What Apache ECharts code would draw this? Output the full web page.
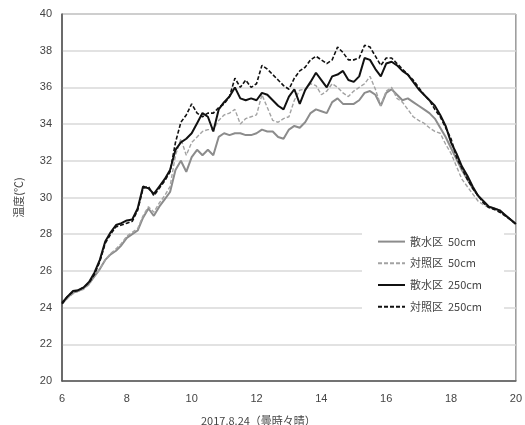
<!DOCTYPE html>
<html>
<head>
<meta charset="utf-8">
<script src="https://cdn.jsdelivr.net/npm/echarts@6/dist/echarts.min.js"></script>
<style>
  html, body { margin: 0; padding: 0; background: #fff; }
  #chart { width: 525px; height: 425px; }
</style>
</head>
<body>
<div id="chart"></div>
<script>
// 10 minute steps, 6:00 - 20:00
const hours = [];
for (let i = 0; i <= 84; i++) hours.push(6 + i / 6);

const yTicks = [20, 22, 24, 26, 28, 30, 32, 34, 36, 38, 40];
const xTicks = [6, 8, 10, 12, 14, 16, 18, 20];

// 散水区 50cm
const sprinkle50 = [
  24.2, 24.55, 24.8, 24.9, 25.05, 25.3, 25.7, 26.1, 26.6, 26.9,
  27.1, 27.4, 27.8, 28.0, 28.2, 28.9, 29.4, 29.0, 29.5, 29.9,
  30.3, 31.5, 32.0, 31.4, 32.2, 32.6, 32.3, 32.6, 32.3, 33.3,
  33.5, 33.4, 33.5, 33.5, 33.4, 33.4, 33.5, 33.7, 33.6, 33.6,
  33.3, 33.2, 33.7, 33.9, 33.8, 34.1, 34.6, 34.8, 34.7, 34.6,
  35.2, 35.4, 35.1, 35.1, 35.1, 35.3, 35.7, 35.8, 35.6, 35.0,
  35.7, 35.9, 35.6, 35.3, 35.4, 35.2, 35.0, 34.8, 34.6, 34.3,
  33.8, 33.3, 32.7, 32.1, 31.5, 31.0, 30.5, 30.1, 29.8, 29.5,
  29.4, 29.3, 29.05, 28.8, 28.55
];
// 対照区 50cm
const control50 = [
  24.2, 24.5, 24.75, 24.9, 25.0, 25.25, 25.7, 26.1, 26.6, 26.95,
  27.2, 27.5, 27.9, 28.1, 28.3, 29.0, 29.5, 29.2, 29.7, 30.1,
  30.6, 32.3, 33.2, 32.3, 33.0, 33.3, 33.6, 33.7, 33.7, 34.2,
  34.5, 34.6, 34.8, 34.0, 34.3, 34.4, 34.5, 35.6, 34.9, 34.2,
  34.1, 34.3, 34.4, 35.3, 35.85, 35.9, 36.2, 36.1, 35.6, 35.8,
  36.2, 36.0, 35.7, 35.5, 35.8, 36.0, 36.2, 36.6, 35.9, 35.0,
  35.8, 36.0, 35.4, 35.2, 34.8, 34.4, 34.2, 34.05, 33.8, 33.6,
  33.5, 32.9, 32.4, 31.7, 31.0, 30.6, 30.2, 29.8, 29.6, 29.45,
  29.4, 29.3, 29.05, 28.8, 28.55
];
// 散水区 250cm
const sprinkle250 = [
  24.25, 24.6, 24.9, 24.95, 25.1, 25.4, 25.9, 26.6, 27.6, 28.1,
  28.5, 28.6, 28.75, 28.8, 29.4, 30.6, 30.5, 30.2, 30.6, 31.0,
  31.5, 32.6, 33.0, 33.2, 33.5, 34.05, 34.6, 34.4, 33.6, 34.8,
  35.2, 35.5, 36.0, 35.4, 35.3, 35.4, 35.3, 35.7, 35.6, 35.3,
  35.0, 34.8, 35.5, 35.9, 35.1, 35.85, 36.3, 36.8, 36.4, 36.0,
  36.6, 36.7, 36.9, 36.4, 36.3, 36.6, 37.6, 37.5, 37.0, 36.6,
  37.3, 37.4, 37.2, 36.9, 36.7, 36.3, 35.9, 35.6, 35.3, 35.0,
  34.5, 33.9, 33.0, 32.4, 31.7, 31.2, 30.6, 30.1, 29.8, 29.5,
  29.4, 29.3, 29.05, 28.8, 28.55
];
// 対照区 250cm
const control250 = [
  24.2, 24.6, 24.85, 24.95, 25.1, 25.35, 25.8, 26.5, 27.5, 28.0,
  28.4, 28.5, 28.6, 28.7, 29.3, 30.5, 30.6, 30.1, 30.5, 30.9,
  31.4, 33.0, 34.1, 34.5, 35.1, 34.6, 34.4, 34.6, 34.6, 34.9,
  35.1, 35.5, 36.5, 36.0, 36.4, 36.0, 36.2, 37.2, 37.0, 36.7,
  36.4, 36.1, 35.9, 36.5, 36.9, 37.1, 37.5, 37.7, 37.5, 37.3,
  37.5, 38.2, 37.9, 37.5, 37.5, 37.6, 38.3, 38.2, 37.7, 37.2,
  37.6, 37.6, 37.3, 37.0, 36.7, 36.4, 36.0, 35.6, 35.3, 34.8,
  34.4, 33.8, 33.2, 32.2, 31.6, 31.0, 30.5, 30.1, 29.7, 29.45,
  29.35, 29.2, 29.0, 28.8, 28.55
];

const seriesNames = ['散水区  50cm', '対照区  50cm', '散水区  250cm', '対照区  250cm'];

function pairs(values) {
  return values.map((v, i) => [hours[i], v]);
}

const chart = echarts.init(document.getElementById('chart'));
const font = '"Liberation Sans Narrow", "Liberation Sans", "Noto Sans CJK JP", sans-serif';

const option = {
  animation: false,
  title: {
    text: '2017.8.24（曇時々晴）',
    left: 196,
    top: 410,
    textStyle: { fontSize: 11, fontWeight: 'normal', color: '#444', fontFamily: '"Noto Sans CJK JP", serif' }
  },
  grid: {
    left: 62, right: 5, top: 14, bottom: 44,
    show: true, borderColor: '#666', borderWidth: 1
  },
  legend: {
    orient: 'vertical',
    left: 362,
    top: 230,
    padding: [6, 22, 6, 15],
    itemGap: 10.5,
    itemWidth: 27,
    itemHeight: 14,
    backgroundColor: '#fff',
    data: seriesNames,
    itemStyle: { opacity: 0 },
    textStyle: { fontSize: 11, color: '#444', fontFamily: '"Noto Sans CJK JP", sans-serif' }
  },
  xAxis: {
    type: 'value',
    min: 6, max: 20, interval: 2,
    axisLine: { show: true, lineStyle: { color: '#555', width: 1.5 } },
    axisTick: { show: false },
    splitLine: { show: false },
    axisLabel: {
      margin: 12, fontSize: 11, color: '#444', fontFamily: font,
      customValues: xTicks
    }
  },
  yAxis: {
    type: 'value',
    min: 20, max: 40, interval: 2,
    name: '温度(℃)',
    nameLocation: 'middle',
    nameGap: 38,
    nameTextStyle: { fontSize: 11, color: '#444', fontFamily: '"Noto Sans CJK JP", sans-serif' },
    axisLine: { show: true, lineStyle: { color: '#555', width: 1.5 } },
    axisTick: { show: false },
    splitLine: { lineStyle: { color: '#d9d9d9', width: 1.5 } },
    axisLabel: { margin: 10, fontSize: 11, color: '#444', fontFamily: font }
  },
  series: [
    {
      name: seriesNames[0], type: 'line', symbol: 'none',
      data: pairs(sprinkle50),
      lineStyle: { color: '#8c8c8c', width: 2 }, itemStyle: { color: '#8c8c8c' }
    },
    {
      name: seriesNames[1], type: 'line', symbol: 'none',
      data: pairs(control50),
      lineStyle: { color: '#a3a3a3', width: 1.4, type: [4, 2] }, itemStyle: { color: '#a3a3a3' }
    },
    {
      name: seriesNames[2], type: 'line', symbol: 'none',
      data: pairs(sprinkle250),
      lineStyle: { color: '#111', width: 2 }, itemStyle: { color: '#111' }
    },
    {
      name: seriesNames[3], type: 'line', symbol: 'none',
      data: pairs(control250),
      lineStyle: { color: '#111', width: 1.6, type: [4, 2] }, itemStyle: { color: '#111' }
    }
  ]
};

chart.setOption(option);
window.addEventListener('resize', () => chart.resize());
</script>
</body>
</html>
